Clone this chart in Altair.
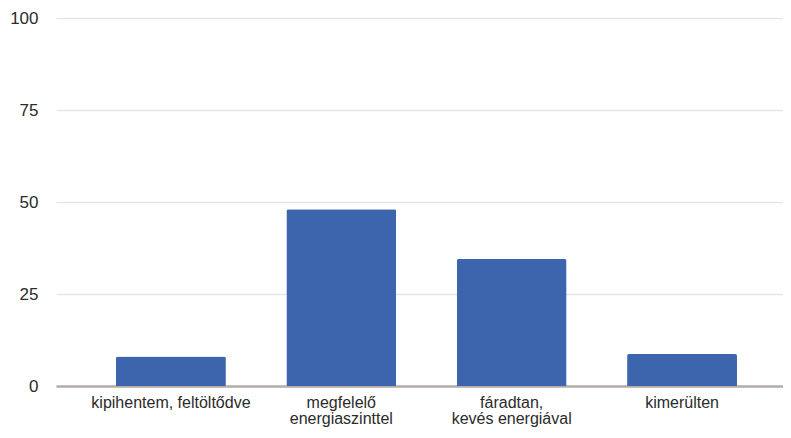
import altair as alt
import pandas as pd

categories = [
    "kipihentem, feltöltődve",
    "megfelelő\nenergiaszinttel",
    "fáradtan,\nkevés energiával",
    "kimerülten",
]
values = [8, 48, 34.5, 8.7]
y_ticks = [0, 25, 50, 75, 100]

df = pd.DataFrame({"cat": categories, "val": values})

chart = (
    alt.Chart(df)
    .mark_bar(color="#3d65ae", cornerRadiusTopLeft=2, cornerRadiusTopRight=2)
    .encode(
        x=alt.X(
            "cat:N",
            sort=categories,
            title=None,
            scale=alt.Scale(paddingInner=0.355, paddingOuter=0.311, align=0.566),
            axis=alt.Axis(
                labelAngle=0,
                labelExpr="split(datum.label, '\\n')",
                labelFont="Liberation Sans",
                labelFontSize=16,
                labelColor="#2b2b2b",
                labelLineHeight=16,
                labelPadding=8,
                ticks=False,
                domainColor="#b3ada8",
                domainWidth=2.5,
                grid=False,
            ),
        ),
        y=alt.Y(
            "val:Q",
            title=None,
            scale=alt.Scale(domain=[0, 100], nice=False),
            axis=alt.Axis(
                values=y_ticks,
                labelFont="Liberation Sans",
                labelFontSize=17,
                labelColor="#2b2b2b",
                labelPadding=18,
                ticks=False,
                domain=False,
                gridColor="#e6e6e6",
                gridWidth=1.5,
            ),
        ),
    )
    .properties(
        width=727,
        height=368,
        background="#ffffff",
        autosize=alt.AutoSizeParams(type="none"),
        padding={"left": 48, "top": 10, "right": 0, "bottom": 44},
    )
    .configure_view(strokeWidth=0, stroke="transparent")
)

chart.save("out.html", embed_options={"renderer": "svg", "actions": False})
